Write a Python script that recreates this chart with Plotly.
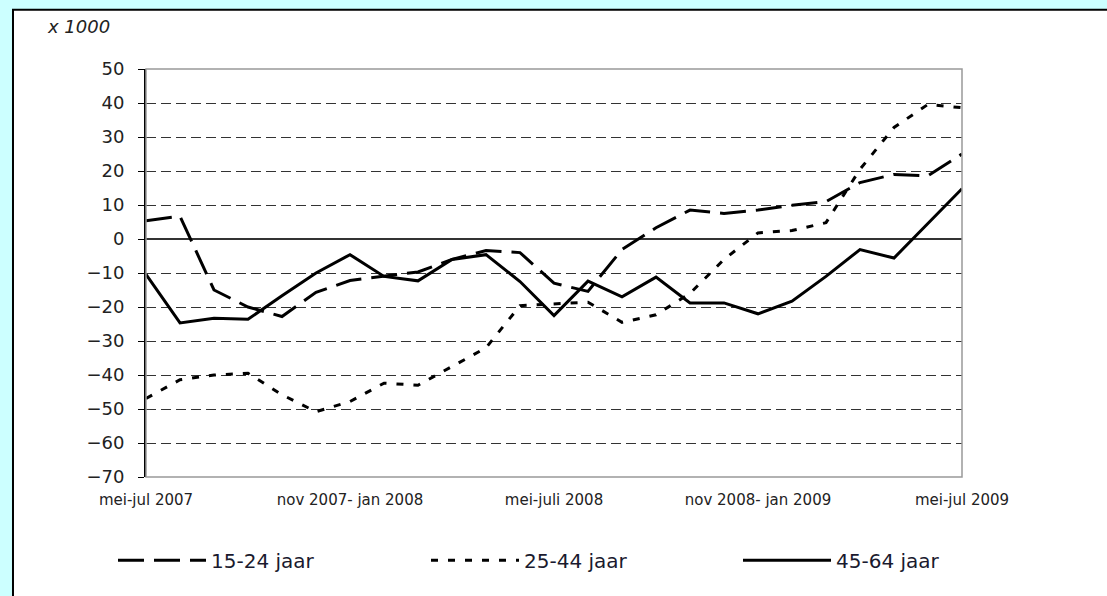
import plotly.graph_objects as go

# rolling three-month periods, mei-jul 2007 .. mei-jul 2009 (x 1000)
periods = list(range(25))
tick_pos = [0, 6, 12, 18, 24]
tick_labels = ["mei-jul 2007", "nov 2007- jan 2008", "mei-juli 2008",
               "nov 2008- jan 2009", "mei-jul 2009"]

jaar_15_24 = [5.4, 6.7, -15, -20, -22.8, -15.7, -12.2, -11, -9.7, -6, -3.4, -4, -13,
              -15.4, -3.1, 3.3, 8.5, 7.5, 8.5, 9.9, 11, 16.6, 19, 18.6, 25]
jaar_25_44 = [-46.9, -41.4, -40, -39.5, -45.8, -50.8, -47.8, -42.4, -43, -37.5, -32,
              -19.6, -19, -18.6, -24.5, -22.3, -16, -6, 1.8, 2.5, 4.8, 20.5, 32.8, 39.6, 38.6]
jaar_45_64 = [-10.4, -24.7, -23.3, -23.6, -16.7, -10, -4.6, -11, -12.3, -6, -4.6, -12.5,
              -22.5, -12.4, -17, -11.2, -18.8, -18.8, -22, -18.3, -11, -3.1, -5.6, 4.6, 14.8]

series = [
    ("15-24 jaar", jaar_15_24, "26px,10px", "legend", 113),
    ("25-44 jaar", jaar_25_44, "7px,10px", "legend2", 426),
    ("45-64 jaar", jaar_45_64, "solid", "legend3", 738),
]

fig = go.Figure()
legends = {}
for name, vals, dash, leg, lx in series:
    fig.add_trace(go.Scatter(x=periods, y=vals, name=name, mode="lines", legend=leg,
                             line=dict(color="black", width=3, dash=dash)))
    legends[leg] = dict(orientation="h", xref="container", yref="container",
                        x=lx / 1107, y=0.06, xanchor="left", yanchor="middle",
                        itemwidth=88, bgcolor="rgba(0,0,0,0)",
                        font=dict(family="DejaVu Sans", size=20, color="#1a1a2e"))

# white page with black frame on the cyan background
fig.add_shape(type="rect", xref="paper", yref="paper", x0=-0.163, x1=1.3, y0=-0.5, y1=1.145,
              fillcolor="white", line=dict(color="black", width=2), layer="below")
# plot box (grey top/right/bottom)
fig.add_shape(type="rect", xref="paper", yref="paper", x0=0, x1=1, y0=0, y1=1,
              line=dict(color="#999999", width=1.5), layer="above")

fig.add_annotation(text="<i>x 1000</i>", xref="paper", yref="paper", x=-0.083, y=1.103,
                   xanchor="center", yanchor="middle", showarrow=False,
                   font=dict(family="DejaVu Sans", size=18, color="#222222"))

fig.update_xaxes(range=[0, 24], tickvals=tick_pos, ticktext=tick_labels,
                 showgrid=False, zeroline=False, showline=False,
                 ticks="outside", ticklen=9, tickcolor="rgba(0,0,0,0)",
                 tickfont=dict(family="DejaVu Sans", size=15, color="#222222"))
fig.update_yaxes(range=[-70, 50], dtick=10, showgrid=True, gridcolor="#333333",
                 griddash="10px,5px", gridwidth=1.2,
                 zeroline=True, zerolinecolor="#333333", zerolinewidth=1.5,
                 showline=True, linecolor="black", linewidth=2,
                 ticks="outside", ticklen=6, tickcolor="black", ticklabelstandoff=10,
                 tickfont=dict(family="DejaVu Sans", size=18, color="#222222"))

fig.update_layout(
    width=1107, height=596,
    margin=dict(l=146, r=145, t=69, b=119),
    paper_bgcolor="#ccffff", plot_bgcolor="white",
    font=dict(family="DejaVu Sans", color="#222222"),
    showlegend=True,
    **legends,
)

fig.write_html("out.html", config={"displayModeBar": False},
               post_script="document.body.style.margin='0';")
